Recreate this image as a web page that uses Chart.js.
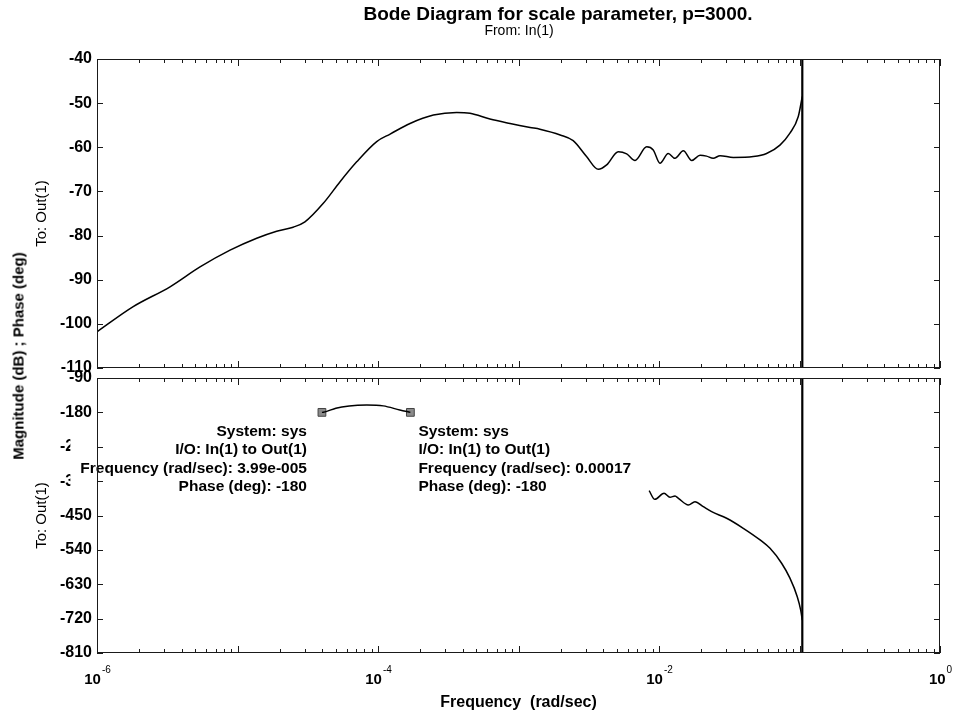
<!DOCTYPE html>
<html>
<head>
<meta charset="utf-8">
<script src="https://cdn.jsdelivr.net/npm/chart.js@4.4.1/dist/chart.umd.min.js"></script>
<style>
  html, body { margin: 0; padding: 0; background: #fff; }
  #wrap { position: relative; width: 954px; height: 713px; overflow: hidden;
          font-family: 'Liberation Sans', Arial, sans-serif; color: #000; }
  canvas { position: absolute; left: 0; top: 0; }
  .lbl { position: absolute; white-space: pre; transform: translate(-50%, -50%); line-height: 1; }
</style>
</head>
<body>
<div id="wrap">
  <canvas id="mag" width="954" height="713"></canvas>
  <canvas id="phase" width="954" height="713"></canvas>
  <div class="lbl" style="left:558px;top:13px;font-size:19px;font-weight:bold;">Bode Diagram for scale parameter, p=3000.</div>
  <div class="lbl" style="left:519px;top:30px;font-size:14px;">From: In(1)</div>
  <div class="lbl" style="left:18px;top:356px;font-size:15px;font-weight:bold;transform:translate(-50%,-50%) rotate(-90deg);">Magnitude (dB) ; Phase (deg)</div>
</div>
<script>
// Magnitude response (rad/sec, dB)
const freqMag = [1.00e-6, 1.81e-6, 3.31e-6, 5.41e-6, 8.85e-6, 1.37e-5, 1.90e-5, 2.49e-5, 3.02e-5,
  4.08e-5, 5.37e-5, 7.05e-5, 9.79e-5, 1.22e-4, 1.69e-4, 2.48e-4, 3.63e-4, 4.52e-4, 6.26e-4,
  8.71e-4, 1.21e-3, 1.42e-3, 1.98e-3, 2.45e-3, 3.05e-3, 3.70e-3, 4.24e-3, 5.13e-3, 5.89e-3,
  6.75e-3, 8.17e-3, 9.10e-3, 1.016e-2, 1.164e-2, 1.30e-2, 1.49e-2, 1.71e-2, 1.96e-2, 2.18e-2,
  2.43e-2, 2.72e-2, 3.38e-2, 4.69e-2, 5.83e-2, 7.26e-2, 8.55e-2, 9.79e-2, 0.1047];
const magDb = [-101.8, -96.1, -91.6, -87.1, -83.3, -80.6, -79.0, -78.1, -76.9,
  -72.7, -67.8, -63.3, -58.7, -57.0, -54.6, -52.7, -52.1, -52.3, -53.6,
  -54.6, -55.5, -55.9, -57.2, -58.5, -62.1, -65.0, -64.0, -61.0, -61.5,
  -63.0, -59.9, -60.6, -63.6, -61.4, -62.5, -60.8, -63.0, -61.8, -62.0,
  -62.5, -61.9, -62.3, -62.1, -61.4, -59.5, -56.8, -53.1, -48.5];

// Phase response, visible pieces (rad/sec, deg)
const freqPhaseArc = [3.99e-5, 4.27e-5, 5.01e-5, 6.24e-5, 8.32e-5, 1.09e-4, 1.43e-4, 1.70e-4];
const phaseArcDeg = [-180, -178, -169, -163, -160.7, -163, -173.8, -180];
const freqPhaseTail = [8.51e-3, 9.33e-3, 1.086e-2, 1.197e-2, 1.30e-2, 1.374e-2, 1.618e-2, 1.803e-2,
  2.065e-2, 2.37e-2, 3.03e-2, 3.98e-2, 5.24e-2, 6.17e-2, 7.46e-2, 8.55e-2, 9.64e-2, 1.019e-1, 0.1047];
const phaseTailDeg = [-385, -407.7, -392, -402.4, -399, -405, -422.5, -413.8,
  -427, -440, -457.3, -483.5, -514, -536, -575, -614, -662.5, -697, -724];

// Nyquist frequency of the sampled system
const nyquistFreq = 0.1047;

// Data tips
const tipFreq = [3.99e-5, 0.00017];
const tipPhase = [-180, -180];

// Axis ticks
const magTicks = [-40, -50, -60, -70, -80, -90, -100, -110];
const phaseTicks = [-90, -180, -270, -360, -450, -540, -630, -720, -810];
const decadeTicks = [1e-6, 1e-4, 1e-2, 1];

const FONT = "'Liberation Sans', Arial, sans-serif";

function pts(xs, ys) { return xs.map((x, i) => ({ x: x, y: ys[i] })); }

// MATLAB-style number text for the data tips
function fmtFreq(v) {
  if (v < 1e-4) {
    const parts = v.toExponential(2).split('e');
    const e = parts[1];
    const sign = e[0] === '-' ? '-' : '+';
    return parts[0] + 'e' + sign + e.replace(/[+-]/, '').padStart(3, '0');
  }
  return String(+v.toPrecision(3));
}

// Box frame with inward ticks on all four sides
const framePlugin = {
  id: 'frame',
  afterDraw(chart) {
    const { ctx, chartArea: a, scales } = chart;
    const xs = scales.x, ys = scales.y;
    ctx.save();
    ctx.strokeStyle = '#1a1a1a';
    ctx.lineWidth = 1;
    ctx.strokeRect(a.left + 0.5, a.top + 0.5, a.right - a.left - 1, a.bottom - a.top - 1);
    ctx.beginPath();
    for (let e = -6; e <= 0; e++) {
      for (let m = 1; m <= 9; m++) {
        const v = m * Math.pow(10, e);
        if (v > 1.0001) break;
        const x = Math.round(xs.getPixelForValue(v)) + 0.5;
        const len = m === 1 ? 7 : 4;
        ctx.moveTo(x, a.top); ctx.lineTo(x, a.top + len);
        ctx.moveTo(x, a.bottom); ctx.lineTo(x, a.bottom - len);
      }
    }
    ys.ticks.forEach(t => {
      const y = Math.round(ys.getPixelForValue(t.value)) + 0.5;
      ctx.moveTo(a.left, y); ctx.lineTo(a.left + 6, y);
      ctx.moveTo(a.right, y); ctx.lineTo(a.right - 6, y);
    });
    ctx.stroke();
    ctx.restore();
  }
};

// Decade labels 10^n under the phase axes
const decadeLabelPlugin = {
  id: 'decades',
  afterDraw(chart) {
    const { ctx, scales: { x } } = chart;
    ctx.save();
    ctx.fillStyle = '#000';
    ctx.textBaseline = 'middle';
    ctx.textAlign = 'left';
    decadeTicks.forEach(v => {
      const px = x.getPixelForValue(v);
      const base = '10';
      const exp = String(Math.round(Math.log10(v)));
      ctx.font = 'bold 15px ' + FONT;
      const w1 = ctx.measureText(base).width;
      ctx.font = '10px ' + FONT;
      const w2 = ctx.measureText(exp).width;
      const start = px - (w1 + w2) / 2;
      ctx.font = 'bold 15px ' + FONT;
      ctx.fillText(base, start, 680);
      ctx.font = '10px ' + FONT;
      ctx.fillText(exp, start + w1 + 1, 670);
    });
    ctx.restore();
  }
};

// Data-tip text boxes next to the markers
const tipPlugin = {
  id: 'tips',
  afterDatasetsDraw(chart) {
    const { ctx, scales: { x, y } } = chart;
    ctx.save();
    ctx.font = 'bold 15.5px ' + FONT;
    ctx.textBaseline = 'middle';
    const lineH = 18.3;
    tipFreq.forEach((f, i) => {
      const px = x.getPixelForValue(f);
      const py = y.getPixelForValue(tipPhase[i]);
      const lines = ['System: sys', 'I/O: In(1) to Out(1)',
        'Frequency (rad/sec): ' + fmtFreq(f), 'Phase (deg): ' + tipPhase[i]];
      const w = Math.max.apply(null, lines.map(s => ctx.measureText(s).width));
      const leftSide = i === 0;
      const tx = leftSide ? px - 15 : px + 8;
      const boxLeft = leftSide ? tx - w - 10 : tx - 4;
      const top = py + 10;
      ctx.fillStyle = '#fff';
      ctx.fillRect(boxLeft, top, w + 14, lines.length * lineH + 2);
      ctx.fillStyle = '#000';
      ctx.textAlign = leftSide ? 'right' : 'left';
      lines.forEach((s, k) => ctx.fillText(s, tx, top + 9.5 + k * lineH));
    });
    ctx.restore();
  }
};

function yAxis(min, max, ticks) {
  return {
    type: 'linear', min: min, max: max,
    afterBuildTicks: s => { s.ticks = ticks.map(v => ({ value: v })); },
    afterFit: s => { s.width = 97; },
    grid: { display: false, drawTicks: false },
    border: { display: false },
    ticks: { padding: 5, color: '#000', font: { family: FONT, size: 16, weight: 'bold' } },
    title: { display: true, text: 'To: Out(1)', color: '#000',
             padding: { top: 33, bottom: 0 }, font: { family: FONT, size: 15 } }
  };
}

const lineStyle = { borderColor: '#000', borderWidth: 1.5, pointRadius: 0,
                    cubicInterpolationMode: 'monotone', fill: false };

new Chart(document.getElementById('mag'), {
  type: 'line',
  data: {
    datasets: [
      Object.assign({ label: 'Magnitude', data: pts(freqMag, magDb) }, lineStyle),
      { label: 'Nyquist', data: pts([nyquistFreq, nyquistFreq], [-40, -110]),
        borderColor: '#000', borderWidth: 2.2, pointRadius: 0 }
    ]
  },
  options: {
    responsive: false, animation: false,
    layout: { padding: { top: 59, bottom: 345, left: 0, right: 14 } },
    plugins: { legend: { display: false }, tooltip: { enabled: false } },
    scales: {
      x: { type: 'logarithmic', min: 1e-6, max: 1, display: false },
      y: yAxis(-110, -40, magTicks)
    }
  },
  plugins: [framePlugin]
});

new Chart(document.getElementById('phase'), {
  type: 'line',
  data: {
    datasets: [
      Object.assign({ label: 'Phase arc', data: pts(freqPhaseArc, phaseArcDeg) }, lineStyle),
      Object.assign({ label: 'Phase', data: pts(freqPhaseTail, phaseTailDeg) }, lineStyle),
      { label: 'Nyquist', data: pts([nyquistFreq, nyquistFreq], [-90, -810]),
        borderColor: '#000', borderWidth: 2.2, pointRadius: 0 },
      { label: 'Data tips', data: pts(tipFreq, tipPhase), showLine: false,
        pointStyle: 'rect', pointRadius: 5.5, backgroundColor: '#8a8a8a',
        borderColor: '#444', borderWidth: 1 }
    ]
  },
  options: {
    responsive: false, animation: false,
    layout: { padding: { top: 378, bottom: 0, left: 0, right: 14 } },
    plugins: { legend: { display: false }, tooltip: { enabled: false } },
    scales: {
      x: {
        type: 'logarithmic', min: 1e-6, max: 1,
        afterFit: s => { s.height = 60; },
        grid: { display: false, drawTicks: false },
        border: { display: false },
        ticks: { display: false },
        title: { display: true, text: 'Frequency  (rad/sec)', color: '#000',
                 padding: { top: 0, bottom: 1 }, font: { family: FONT, size: 16, weight: 'bold' } }
      },
      y: yAxis(-810, -90, phaseTicks)
    }
  },
  plugins: [tipPlugin, framePlugin, decadeLabelPlugin]
});
</script>
</body>
</html>
